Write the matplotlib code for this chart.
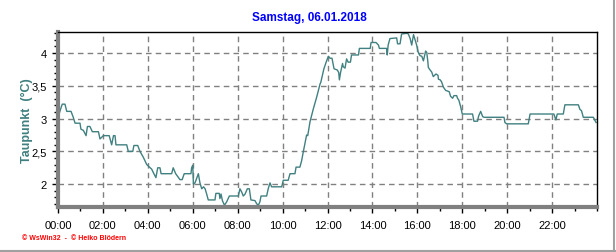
import numpy as np
import matplotlib
matplotlib.use("Agg")
import matplotlib.pyplot as plt
from matplotlib.ticker import MultipleLocator, FuncFormatter
from matplotlib.lines import Line2D

# dew point, 06.01.2018 (hours since midnight, degC)
hours = [
    0.0, 0.05, 0.12, 0.19, 0.31, 0.39, 0.58, 0.68, 0.76, 0.98,
    1.02, 1.13, 1.25, 1.31, 1.42, 1.53, 1.80, 1.87, 2.02, 2.28,
    2.39, 2.47, 2.54, 2.58, 3.06, 3.13, 3.33, 3.38, 3.55, 3.65,
    3.80, 3.95, 4.17, 4.24, 4.36, 4.44, 4.54, 4.59, 5.06, 5.13,
    5.24, 5.43, 5.53, 5.62, 5.92, 5.95, 6.00, 6.03, 6.10, 6.25,
    6.32, 6.40, 6.48, 6.55, 6.62, 6.69, 6.99, 7.03, 7.18, 7.21,
    7.26, 7.32, 7.41, 7.51, 7.63, 8.03, 8.10, 8.18, 8.25, 8.33,
    8.43, 8.52, 8.59, 8.77, 8.85, 8.92, 8.99, 9.04, 9.29, 9.36,
    9.44, 9.51, 9.96, 10.03, 10.25, 10.33, 10.55, 10.60, 10.77, 10.85,
    10.92, 11.07, 11.12, 11.22, 11.37, 11.52, 11.67, 11.70, 11.84, 11.96,
    12.04, 12.11, 12.20, 12.29, 12.44, 12.50, 12.53, 12.58, 12.67, 12.70,
    12.78, 12.85, 12.92, 13.02, 13.07, 13.38, 13.42, 13.90, 13.94, 14.16,
    14.27, 14.31, 14.63, 14.66, 14.70, 14.78, 15.08, 15.12, 15.23, 15.30,
    15.53, 15.60, 15.68, 15.75, 15.83, 15.90, 15.97, 16.04, 16.12, 16.20,
    16.27, 16.37, 16.42, 16.47, 16.49, 16.57, 16.64, 16.71, 16.83, 16.92,
    16.94, 17.02, 17.08, 17.16, 17.26, 17.42, 17.48, 17.57, 17.63, 17.75,
    17.79, 17.85, 17.93, 18.00, 18.46, 18.52, 18.68, 18.73, 18.82, 18.91,
    18.97, 19.86, 19.90, 19.98, 20.94, 21.02, 22.08, 22.13, 22.17, 22.23,
    22.50, 22.57, 23.17, 23.24, 23.31, 23.39, 23.84, 23.91, 23.96,
]
taupunkt = [
    3.05, 3.07, 3.15, 3.22, 3.22, 3.11, 3.11, 3.02, 2.93, 2.93,
    2.84, 2.82, 2.74, 2.88, 2.88, 2.80, 2.80, 2.69, 2.74, 2.74,
    2.60, 2.74, 2.74, 2.60, 2.60, 2.50, 2.50, 2.59, 2.59, 2.50,
    2.41, 2.30, 2.23, 2.18, 2.10, 2.25, 2.25, 2.16, 2.16, 2.25,
    2.16, 2.07, 2.07, 2.16, 2.16, 2.25, 2.29, 2.00, 2.02, 2.16,
    2.02, 1.93, 1.96, 1.93, 1.85, 1.76, 1.76, 1.86, 1.86, 1.78,
    1.85, 1.75, 1.68, 1.73, 1.82, 1.82, 1.93, 1.88, 1.82, 1.85,
    1.93, 1.93, 1.76, 1.75, 1.70, 1.68, 1.73, 1.82, 1.82, 1.93,
    2.02, 1.96, 1.96, 2.06, 2.06, 2.16, 2.16, 2.26, 2.26, 2.36,
    2.49, 2.75, 2.74, 2.95, 3.15, 3.33, 3.53, 3.55, 3.76, 3.88,
    3.95, 3.92, 3.92, 3.76, 3.74, 3.70, 3.59, 3.70, 3.84, 3.79,
    3.77, 3.91, 3.86, 3.86, 3.97, 3.97, 4.07, 4.07, 4.16, 4.16,
    4.12, 4.07, 4.07, 3.97, 4.12, 4.22, 4.23, 4.14, 4.14, 4.29,
    4.30, 4.29, 4.22, 4.12, 4.28, 4.20, 4.12, 4.01, 3.96, 3.95,
    3.88, 4.03, 4.01, 3.86, 3.78, 3.74, 3.71, 3.64, 3.68, 3.66,
    3.60, 3.59, 3.56, 3.48, 3.43, 3.41, 3.34, 3.31, 3.35, 3.35,
    3.31, 3.28, 3.18, 3.07, 3.07, 2.96, 2.96, 3.04, 3.11, 3.03,
    3.02, 3.02, 2.94, 2.92, 2.92, 3.07, 3.07, 3.02, 2.98, 3.07,
    3.07, 3.21, 3.21, 3.14, 3.12, 3.02, 3.02, 2.97, 2.94,
]
tick_labels = ["00:00", "02:00", "04:00", "06:00", "08:00", "10:00",
               "12:00", "14:00", "16:00", "18:00", "20:00", "22:00"]

title = "Samstag, 06.01.2018"
ylabel = "Taupunkt  (°C)"
footer = "© WsWin32  -  © Heiko Blödern"

line_color = "#408080"
grid_color = "#808080"

plt.rcParams["font.family"] = ["Liberation Sans", "DejaVu Sans"]

fig = plt.figure(figsize=(6.16, 2.53), dpi=100)
ax = fig.add_axes([58 / 616, 1 - 207.5 / 253, (597 - 58) / 616, (207.5 - 33) / 253])

ax.plot(hours, taupunkt, color=line_color, linewidth=1.0)

ax.set_xlim(0, 24)
ax.set_ylim(1.66, 4.32)

ax.set_xticks(np.arange(0, 24, 2))
ax.set_xticklabels(tick_labels)
ax.xaxis.set_minor_locator(MultipleLocator(1))
ax.set_yticks([2, 2.5, 3, 3.5, 4])
ax.yaxis.set_major_formatter(FuncFormatter(lambda v, p: f"{v:g}".replace(".", ",")))
ax.yaxis.set_minor_locator(MultipleLocator(0.1))

ax.tick_params(which="both", direction="out", color="black", labelsize=8, width=1)
ax.tick_params(which="major", length=4, pad=6)
ax.tick_params(which="minor", length=3)
ax.tick_params(axis="y", which="major", length=4, pad=4)

ax.grid(True, which="major", color=grid_color, linestyle=(0, (4, 3)), linewidth=1)

for side in ["left", "bottom"]:
    ax.spines[side].set_color("#808080")
    ax.spines[side].set_linewidth(3)
for side in ["top", "right"]:
    ax.spines[side].set_color("black")
    ax.spines[side].set_linewidth(1)

ax.set_ylabel(ylabel, color=line_color, fontsize=9, fontweight="bold", labelpad=-1)
fig.text(309 / 616, 1 - 18 / 253, title, color="#0000ff", fontsize=8.5,
         fontweight="bold", ha="center", va="center")
fig.text(22 / 616, 1 - 239 / 253, footer, color="#ff0000", fontsize=5,
         fontweight="bold", ha="left", va="center")

# outer frame (right and bottom edges)
fig.add_artist(Line2D([614 / 616, 614 / 616], [0, 1], color="#a0a0a0", linewidth=1.5))
fig.add_artist(Line2D([0, 1], [1.5 / 253, 1.5 / 253], color="#a0a0a0", linewidth=1.5))

fig.savefig("out.png", dpi=100)
